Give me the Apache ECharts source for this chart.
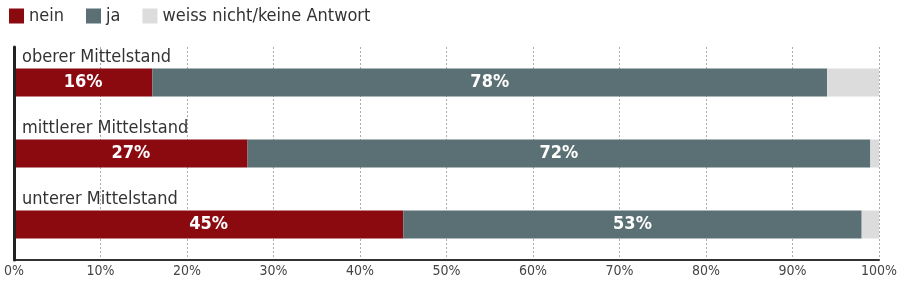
<!DOCTYPE html>
<html><head><meta charset="utf-8">
<script src="https://cdn.jsdelivr.net/npm/echarts@6/dist/echarts.min.js"></script>
<style>html,body{margin:0;padding:0;background:#fff}#c{width:900px;height:282px}</style>
</head><body><div id="c"></div>
<script>
const categories = ['oberer Mittelstand', 'mittlerer Mittelstand', 'unterer Mittelstand'];
const seriesNames = ['nein', 'ja', 'weiss nicht/keine Antwort'];
const nein = [16, 27, 45];
const ja = [78, 72, 53];
const weissNicht = [6, 1, 2];
const xTicks = [0, 10, 20, 30, 40, 50, 60, 70, 80, 90, 100];

const FONT = '"Liberation Sans Narrow", "DejaVu Sans Condensed", sans-serif';
const colors = ['#8a0a10', '#5a7074', '#dcdcdc'];
const chart = echarts.init(document.getElementById('c'), null, {renderer: 'canvas'});
const mk = (name, data, color, showLabel) => ({
  name, type: 'bar', stack: 'all', data, barWidth: 28,
  itemStyle: {color},
  label: {show: showLabel, position: 'inside', color: '#fff', fontWeight: 'bold',
    fontFamily: FONT, fontSize: 18, formatter: p => p.value + '%'},
  emphasis: {disabled: true}
});
chart.setOption({
  animation: false,
  textStyle: {fontFamily: FONT},
  legend: {
    left: 4, top: 2, itemWidth: 15, itemHeight: 15, itemGap: 22,
    icon: 'rect',
    textStyle: {fontFamily: FONT, fontSize: 18, color: '#333'},
    data: seriesNames
  },
  grid: {left: 14, right: 21, top: 47, bottom: 22, containLabel: false},
  xAxis: {
    type: 'value', min: 0, max: 100, interval: 10,
    axisLine: {show: true, lineStyle: {color: '#333', width: 2}},
    axisTick: {show: false},
    axisLabel: {formatter: v => xTicks.includes(v) ? v + '%' : '', color: '#444', fontFamily: FONT, fontSize: 14, margin: 4},
    splitLine: {show: true, lineStyle: {color: '#aaa', type: [2, 2], width: 1}}
  },
  yAxis: {
    type: 'category', data: categories, inverse: true,
    axisLine: {show: true, onZero: false, lineStyle: {color: '#222', width: 3}},
    axisTick: {show: false},
    axisLabel: {inside: true, margin: 8, color: '#333', fontFamily: FONT, fontSize: 18,
      verticalAlign: 'bottom', padding: [0, 0, 16, 0]},
    z: 10
  },
  series: [
    mk(seriesNames[0], nein, colors[0], true),
    mk(seriesNames[1], ja, colors[1], true),
    mk(seriesNames[2], weissNicht, colors[2], false)
  ]
});
</script></body></html>
